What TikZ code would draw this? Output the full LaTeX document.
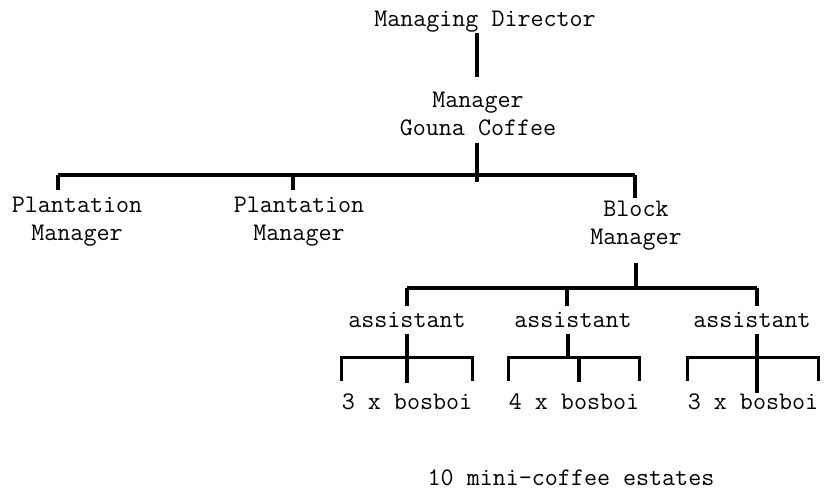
\documentclass[tikz,border=0pt]{standalone}
\usepackage{tikz}
\usetikzlibrary{positioning,calc}

\begin{document}
\begin{tikzpicture}[
  x=0.02cm, y=-0.02cm,
  post/.style={font=\ttfamily\fontsize{14.4}{16}\selectfont, align=center, inner sep=0pt},
  link/.style={line width=1.8pt, black},
]
\useasboundingbox (0,0) rectangle (825,496);

% Top: director and coffee manager
\node[post] (md) at (485,22) {Managing Director};
\node[post] (mgr) at (478,114) {Manager\\Gouna Coffee};

% Managers under Gouna Coffee
\node[post] (pm1) at (77,222) {Plantation\\Manager};
\node[post] (pm2) at (299,222) {Plantation\\Manager};
\node[post] (bm) at (636,226) {Block\\Manager};

% Assistants under the block manager
\node[post] (as1) at (407,320) {assistant};
\node[post] (as2) at (573,320) {assistant};
\node[post] (as3) at (752,320) {assistant};

% Bosbois and estates
\node[post] (bb1) at (407,402) {3 x bosboi};
\node[post] (bb2) at (574,402) {4 x bosboi};
\node[post] (bb3) at (753,402) {3 x bosboi};
\node[post] (est) at (571,478) {10 mini-coffee estates};

% bar points
\coordinate (hub) at (477,182);
\coordinate (p1) at (58,175);
\coordinate (p2) at (293,175);
\coordinate (p3) at (635,175);
\coordinate (a1) at (407,288);
\coordinate (a2) at (567,288);
\coordinate (a3) at (757,288);

% upper links
\draw[link] (md.south -| hub) -- ([yshift=0.3cm]mgr.north -| hub);
\draw[link] ([yshift=-0.14cm]mgr.south -| hub) -- (hub);
\draw[link] (p1) -- (p3);
\draw[link] (p1) -- ([yshift=0.14cm]pm1.north -| p1);
\draw[link] (p2) -- ([yshift=0.14cm]pm2.north -| p2);
\draw[link] (p3) -- ([yshift=0.06cm]bm.north -| p3);

% block manager to assistants
\draw[link] ([yshift=-0.24cm]bm.south) -- (bm |- a1);
\draw[link] (a1) -- (a3);
\foreach \a/\n in {a1/as1, a2/as2, a3/as3}
  \draw[link] (\a) -- ([yshift=0.12cm]\n.north -| \a);

% assistants to bosbois
\foreach \b in {bb1,bb2,bb3}
  \draw[link] ([yshift=0.26cm]\b.north west) |- ([yshift=0.72cm]\b.north) -| ([yshift=0.26cm]\b.north east);
\draw[link] ([yshift=-0.12cm]as1.south) -- ([yshift=0.22cm]bb1.north);
\draw[link] ([yshift=-0.12cm,xshift=-0.1cm]as2.south) -- ([yshift=0.72cm,xshift=-0.1cm]bb2.north -| as2);
\draw[link] ([yshift=0.72cm,xshift=0.1cm]bb2.north) -- ([yshift=0.24cm,xshift=0.1cm]bb2.north);
\draw[link] ([yshift=-0.12cm]as3.south -| a3) -- ([yshift=0.02cm]bb3.north -| a3);

\end{tikzpicture}
\end{document}
